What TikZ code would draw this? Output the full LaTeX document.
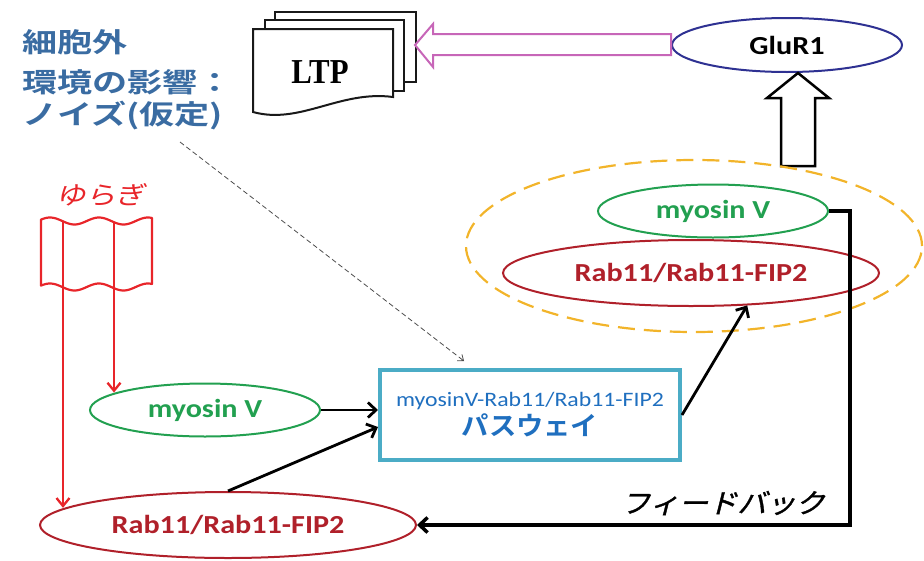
\documentclass[tikz,border=0pt]{standalone}
\usepackage{fontspec}
\usetikzlibrary{arrows.meta,shapes.geometric,calc}
\setmainfont{Carlito}
\newfontfamily\calb[FakeStretch=1.16]{Carlito}
\newfontfamily\jpA[FakeStretch=1.3,BoldFont={Noto Sans CJK JP Bold}]{Noto Sans CJK JP}
\newfontfamily\jpB[FakeStretch=1.05,BoldFont={Noto Sans CJK JP Bold}]{Noto Sans CJK JP}
\newfontfamily\jpS[FakeStretch=1.08,FakeSlant=0.25,FakeBold=1.2]{Noto Sans CJK JP}
\newfontfamily\jpY[FakeStretch=1.2,FakeSlant=0.2]{Noto Sans CJK JP}
\newfontfamily\ltpf[FakeStretch=0.88]{Liberation Serif}
\definecolor{bluetext}{HTML}{3A6CA2}
\definecolor{pinkc}{HTML}{C766B8}
\definecolor{navyc}{HTML}{2E3192}
\definecolor{orangec}{HTML}{F2B42A}
\definecolor{greenc}{HTML}{22A050}
\definecolor{darkredc}{HTML}{B0202A}
\definecolor{boxblue}{HTML}{4BACC6}
\definecolor{pathblue}{HTML}{1F6FBF}
\definecolor{redc}{HTML}{E8252A}
\begin{document}
\begin{tikzpicture}[x=1pt,y=-1pt,
  ell/.style={ellipse, draw, line width=2pt, inner sep=0pt, font=\calb\bfseries\fontsize{26}{28}\selectfont},
  greenell/.style={ell, draw=greenc, text=greenc, minimum width=230pt, minimum height=53pt},
  redell/.style={ell, draw=darkredc, text=darkredc, minimum width=376pt, minimum height=66pt},
  arr/.style={line width=2.8pt, -{Straight Barb[length=8pt,width=15pt]}},
  redarr/.style={draw=redc, line width=2.3pt, -{Straight Barb[length=8pt,width=13pt]}},
  page/.style={draw=black!90, fill=white, line width=2pt},
  bluetxt/.style={anchor=west, inner sep=0pt, text=bluetext, font=\jpA\bfseries\fontsize{27}{30}\selectfont},
]
\useasboundingbox (0,0) rectangle (924,560);

% top-left text
\node[bluetxt] (t1) at (22,42) {細胞外};
\node[bluetxt] (t2) at (22,82) {環境の影響：};
\node[bluetxt] (t3) at (22,116) {ノイズ(仮定)};

% LTP pages
\draw[page] (275,12) rectangle (416,82);
\draw[page] (265,20) rectangle (404,91);
\draw[page] (253,29) -- (393,29) -- (393,97)
  .. controls (340,90) and (300,125) .. (253,112) -- cycle;
\node[inner sep=0pt, font=\ltpf\bfseries\fontsize{35}{38}\selectfont] (ltp) at (320,72) {LTP};

% GluR1
\node[ell, draw=navyc, minimum width=230pt, minimum height=54pt] (glur) at (787,45) {GluR1};

% pink block arrow
\draw[draw=pinkc, line width=2pt, fill=white]
  (glur.west |- 0,34) -- (433,34) -- (433,24) -- (415,45) -- (433,67) -- (433,55) -- (glur.west |- 0,55) -- cycle;

% white up block arrow
\draw[line width=2.5pt, fill=white]
  (798,73) -- (829,98) -- (815,98) -- (815,166) -- (781,166) -- (781,98) -- (767,98) -- cycle;

% dashed group ellipse
\node[ellipse, draw=orangec, line width=2.2pt, dash pattern=on 17pt off 9pt,
  minimum width=456pt, minimum height=172pt] (grp) at (694,246) {};

% right group
\node[greenell] (myoR) at (713,211) {myosin V};
\node[redell] (rabR) at (691,273) {Rab11/Rab11-FIP2};

% pathway box
\node[draw=boxblue, line width=4pt, minimum width=300pt, minimum height=90pt,
  align=center, inner sep=0pt, text=pathblue] (path) at (530,415)
  {{\calb\fontsize{20.5}{24}\selectfont myosinV-Rab11/Rab11-FIP2}\\[3pt]
   {\jpB\bfseries\fontsize{26}{28}\selectfont パスウェイ}};

% left nodes
\node[greenell] (myoL) at (205,410) {myosin V};
\node[redell] (rabL) at (228,525) {Rab11/Rab11-FIP2};

% fluctuation flag
\node[inner sep=0pt, text=redc, font=\jpY\fontsize{25}{28}\selectfont] (yur) at (101,195) {ゆらぎ};
\draw[draw=redc, line width=2.2pt, line join=round]
  plot[domain=41:152, samples=60, smooth] (\x, {221-3.5*cos(7.347*(\x-50))})
  -- plot[domain=152:41, samples=60, smooth] (\x, {287-3.5*cos(7.347*(\x-50))})
  -- cycle;
\coordinate (f1) at (63,222);
\coordinate (f2) at (114,222);
\draw[redarr] (f1) -- (f1 |- rabL.174.7);
\draw[redarr] (f2) -- (f2 |- myoL.169.7);

% black arrows
\draw[arr] (myoL.east) -- (path.west |- myoL.east);
\draw[arr] (rabL.north) -- ([yshift=-12pt]path.west);
\draw[arr] (path.east) -- (rabR.-30);

% feedback
\coordinate (fb) at (850,525);
\draw[arr, line width=3.5pt, line join=miter] (myoR.east) -| (fb) -- (rabL.east);
\node[inner sep=0pt, font=\jpS\fontsize{27}{30}\selectfont] (fbt) at (723,503) {フィードバック};

% dashed noise arrow
\coordinate (ns) at (180,142);
\draw[draw=black!70, line width=0.8pt, dash pattern=on 5pt off 3pt,
  -{Straight Barb[length=5pt,width=8pt]}] (ns) -- ([xshift=86pt,yshift=7pt]path.north west);
\end{tikzpicture}
\end{document}
